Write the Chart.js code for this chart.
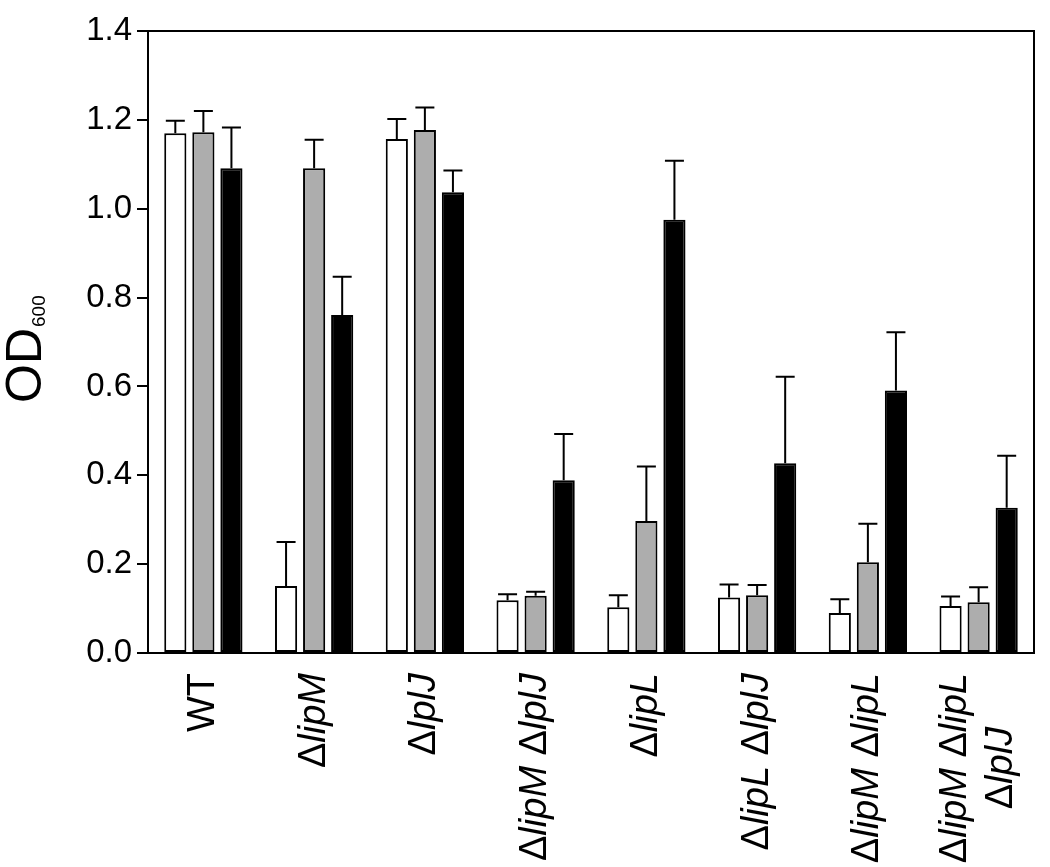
<!DOCTYPE html>
<html>
<head>
<meta charset="utf-8">
<script src="https://cdn.jsdelivr.net/npm/chart.js@4.4.1/dist/chart.umd.min.js"></script>
<style>
  html, body { margin: 0; padding: 0; background: #ffffff; }
  #wrap { width: 1050px; height: 867px; position: relative; }
</style>
</head>
<body>
<div id="wrap"><canvas id="c"></canvas></div>
<script>
// ---- data ----
const categories = [
  "WT",
  "\u0394lipM",
  "\u0394lplJ",
  "\u0394lipM \u0394lplJ",
  "\u0394lipL",
  "\u0394lipL \u0394lplJ",
  "\u0394lipM \u0394lipL",
  ["\u0394lipM \u0394lipL", "\u0394lplJ"]
];
const whiteValues = [1.170, 0.151, 1.157, 0.119, 0.103, 0.125, 0.090, 0.106];
const grayValues  = [1.172, 1.091, 1.177, 0.129, 0.297, 0.130, 0.204, 0.114];
const blackValues = [1.091, 0.761, 1.037, 0.389, 0.975, 0.427, 0.591, 0.327];
const whiteErrors = [0.028, 0.099, 0.045, 0.013, 0.027, 0.029, 0.031, 0.021];
const grayErrors  = [0.048, 0.064, 0.051, 0.009, 0.123, 0.023, 0.087, 0.034];
const blackErrors = [0.092, 0.086, 0.049, 0.104, 0.133, 0.195, 0.131, 0.117];
const yTicks = [0.0, 0.2, 0.4, 0.6, 0.8, 1.0, 1.2, 1.4];
const yTitleMain = "OD";
const yTitleSub = "600";

const FONT = "'Liberation Sans', Arial, Helvetica, sans-serif";
const XFONT_SIZE = 38;

const errorBarPlugin = {
  id: 'errorBars',
  afterDatasetsDraw(chart) {
    const ctx = chart.ctx;
    const y = chart.scales.y;
    ctx.save();
    ctx.strokeStyle = '#000';
    ctx.lineWidth = 2;
    chart.data.datasets.forEach((ds, di) => {
      const meta = chart.getDatasetMeta(di);
      meta.data.forEach((bar, i) => {
        const v = ds.data[i];
        const e = ds.errors[i];
        const yTop = y.getPixelForValue(v + e);
        const yBase = y.getPixelForValue(v);
        const x = bar.x;
        ctx.beginPath();
        ctx.moveTo(x, yBase);
        ctx.lineTo(x, yTop);
        ctx.moveTo(x - 9.5, yTop);
        ctx.lineTo(x + 9.5, yTop);
        ctx.stroke();
      });
    });
    ctx.restore();
  }
};

// split a label into upright (Δ, WT) and italic (gene names) segments
function segmentsOf(line) {
  if (line === 'WT') return [{ t: 'WT', it: false }];
  const segs = [];
  for (const ch of line) {
    const it = !(ch === '\u0394' || ch === ' ');
    if (segs.length && segs[segs.length - 1].it === it) segs[segs.length - 1].t += ch;
    else segs.push({ t: ch, it });
  }
  return segs;
}

const labelPlugin = {
  id: 'xLabels',
  afterDraw(chart) {
    const ctx = chart.ctx;
    const xs = chart.scales.x;
    const top = chart.chartArea.bottom + 20;
    const lineH = 46;
    ctx.save();
    ctx.fillStyle = '#000';
    ctx.textBaseline = 'middle';
    ctx.textAlign = 'left';
    const fontFor = (it) => (it ? 'italic ' : '') + XFONT_SIZE + 'px ' + FONT;
    categories.forEach((lab, i) => {
      const lines = Array.isArray(lab) ? lab : [lab];
      const measured = lines.map(l => {
        const segs = segmentsOf(l);
        let w = 0;
        segs.forEach(s => { ctx.font = fontFor(s.it); s.w = ctx.measureText(s.t).width; w += s.w; });
        return { segs, w };
      });
      const maxW = Math.max(...measured.map(m => m.w));
      const cy = top + maxW / 2;
      const x0 = xs.getPixelForValue(i);
      measured.forEach((m, j) => {
        const cx = x0 + (j - (lines.length - 1) / 2) * lineH;
        ctx.save();
        ctx.translate(cx, cy);
        ctx.rotate(-Math.PI / 2);
        let px = -m.w / 2;
        m.segs.forEach(s => {
          ctx.font = fontFor(s.it);
          ctx.fillText(s.t, px, 0);
          px += s.w;
        });
        ctx.restore();
      });
    });
    ctx.restore();
  }
};

const framePlugin = {
  id: 'frame',
  afterDraw(chart) {
    const ctx = chart.ctx;
    const a = chart.chartArea;
    ctx.save();
    ctx.strokeStyle = '#000';
    ctx.lineWidth = 2;
    ctx.strokeRect(a.left, a.top, a.right - a.left, a.bottom - a.top);
    // y-axis title with subscript
    ctx.fillStyle = '#000';
    ctx.translate(41, 403);
    ctx.rotate(-Math.PI / 2);
    ctx.textAlign = 'left';
    ctx.textBaseline = 'alphabetic';
    ctx.font = "50px " + FONT;
    ctx.fillText(yTitleMain, 0, 0);
    const w = ctx.measureText(yTitleMain).width;
    ctx.font = "19px " + FONT;
    ctx.fillText(yTitleSub, w + 1, 4);
    ctx.restore();
  }
};

const mk = (label, data, errors, fill) => ({
  label, data, errors,
  backgroundColor: fill,
  borderColor: '#000',
  borderWidth: 2,
  borderSkipped: false,
  categoryPercentage: 0.76,
  barPercentage: 0.79
});

new Chart(document.getElementById('c'), {
  type: 'bar',
  data: {
    labels: categories,
    datasets: [
      mk('white', whiteValues, whiteErrors, '#ffffff'),
      mk('gray', grayValues, grayErrors, '#adadad'),
      mk('black', blackValues, blackErrors, '#000000')
    ]
  },
  options: {
    responsive: true,
    maintainAspectRatio: false,
    animation: false,
    layout: { padding: { top: 31, right: 16, left: 0, bottom: 0 } },
    plugins: { legend: { display: false }, tooltip: { enabled: false } },
    scales: {
      x: {
        afterFit(scale) { scale.height = 214; scale.paddingLeft = 0; scale.paddingRight = 0; },
        grid: { display: false, drawTicks: false },
        border: { display: true, color: '#000', width: 2 },
        ticks: { display: false }
      },
      y: {
        min: 0,
        max: 1.4,
        afterFit(scale) { scale.width = 148; },
        afterBuildTicks(scale) { scale.ticks = yTicks.map(v => ({ value: v })); },
        grid: { drawOnChartArea: false, drawTicks: true, tickLength: 11, color: '#000', lineWidth: 2 },
        border: { display: true, color: '#000', width: 2 },
        ticks: {
          padding: 5,
          color: '#000',
          font: { family: FONT, size: 33 },
          callback: (v) => Number(v).toFixed(1)
        }
      }
    }
  },
  plugins: [errorBarPlugin, labelPlugin, framePlugin]
});
</script>
</body>
</html>
